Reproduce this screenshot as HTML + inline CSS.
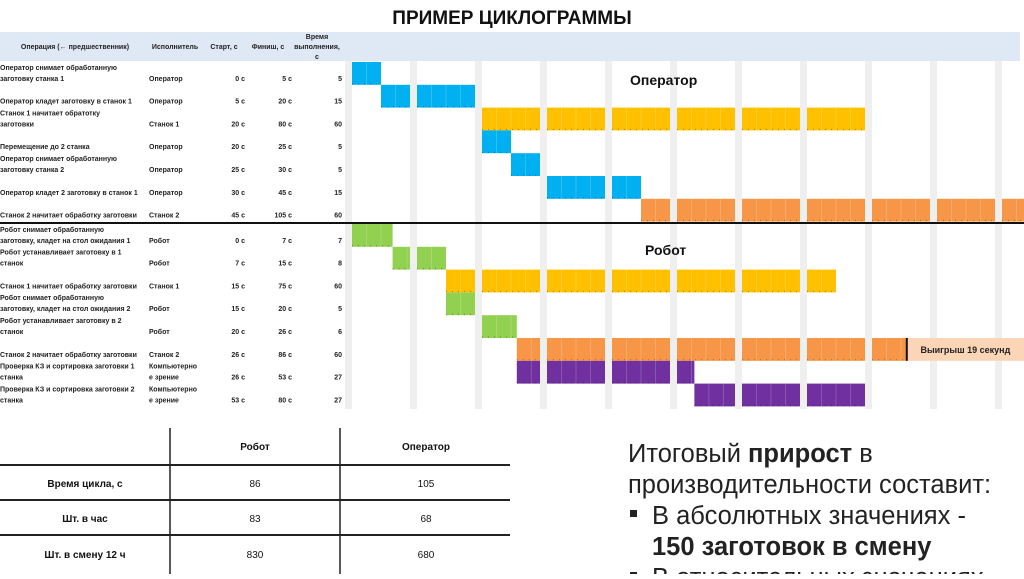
<!DOCTYPE html>
<html><head><meta charset="utf-8"><style>
body{margin:0;background:#fff;}
svg text{font-family:"Liberation Sans","DejaVu Sans",sans-serif;}
</style></head><body>
<svg id="s" width="1024" height="574" viewBox="0 0 1024 574" xmlns="http://www.w3.org/2000/svg">
<text x="512" y="24" text-anchor="middle" font-size="19" font-weight="bold" fill="#111">ПРИМЕР ЦИКЛОГРАММЫ</text>
<rect x="0" y="32" width="1020" height="29" fill="#dfe8f5"/>
<g font-size="7" font-weight="bold" fill="#222">
<text x="75" y="49" text-anchor="middle">Операция (← предшественник)</text>
<text x="175" y="49" text-anchor="middle">Исполнитель</text>
<text x="224" y="49" text-anchor="middle">Старт, с</text>
<text x="268" y="49" text-anchor="middle">Финиш, с</text>
<text x="317" y="39" text-anchor="middle">Время</text>
<text x="317" y="49" text-anchor="middle">выполнения,</text>
<text x="317" y="59" text-anchor="middle">с</text>
</g>
<g id="grid"></g><g id="bars"></g><g id="rows"></g>
<line x1="0" y1="223" x2="1024" y2="223" stroke="#111" stroke-width="2"/>
<text x="630" y="85" font-size="14" font-weight="bold" fill="#111">Оператор</text>
<text x="645" y="255" font-size="14" font-weight="bold" fill="#111">Робот</text>
<g id="gain"></g>
<g stroke="#222">
<line x1="170" y1="428" x2="170" y2="574" stroke-width="1.5"/>
<line x1="340" y1="428" x2="340" y2="574" stroke-width="1.5"/>
<line x1="0" y1="465" x2="510" y2="465" stroke-width="2"/>
<line x1="0" y1="500" x2="510" y2="500" stroke-width="2"/>
<line x1="0" y1="535" x2="510" y2="535" stroke-width="2"/>
</g>
<g font-size="10" fill="#111" text-anchor="middle">
<text x="255" y="450" font-weight="bold">Робот</text>
<text x="426" y="450" font-weight="bold">Оператор</text>
<text x="85" y="487" font-weight="bold">Время цикла, с</text>
<text x="255" y="487">86</text><text x="426" y="487">105</text>
<text x="85" y="522" font-weight="bold">Шт. в час</text>
<text x="255" y="522">83</text><text x="426" y="522">68</text>
<text x="85" y="558" font-weight="bold">Шт. в смену 12 ч</text>
<text x="255" y="558">830</text><text x="426" y="558">680</text>
</g>
<g font-size="25.5" fill="#222">
<text x="628" y="462">Итоговый <tspan font-weight="bold">прирост</tspan> в</text>
<text x="628" y="493">производительности составит:</text>
<rect x="630" y="510" width="7" height="7" fill="#222"/>
<text x="652" y="524">В абсолютных значениях -</text>
<text x="652" y="555" font-weight="bold">150 заготовок в смену</text>
<rect x="630" y="572" width="7" height="7" fill="#222"/>
<text x="652" y="586">В относительных значениях</text>
</g>
</svg>
<script>
const opLabels=[["Оператор снимает обработанную","заготовку станка 1"],["Оператор кладет заготовку в станок 1"],["Станок 1 начитает обратотку","заготовки"],["Перемещение до 2 станка"],["Оператор снимает обработанную","заготовку станка 2"],["Оператор кладет 2 заготовку в станок 1"],["Станок 2 начитает обработку заготовки"]];
const opExec=["Оператор","Оператор","Станок 1","Оператор","Оператор","Оператор","Станок 2"];
const opStart=[0,5,20,20,25,30,45];
const opFinish=[5,20,80,25,30,45,105];
const opColor=["blue","blue","yellow","blue","blue","blue","orange"];
const rbLabels=[["Робот снимает обработанную","заготовку, кладет на стол ожидания 1"],["Робот устанавливает заготовку в 1","станок"],["Станок 1 начитает обработку заготовки"],["Робот снимает обработанную","заготовку, кладет на стол ожидания 2"],["Робот устанавливает заготовку в 2","станок"],["Станок 2 начитает обработку заготовки"],["Проверка КЗ и сортировка заготовки 1","станка"],["Проверка КЗ и сортировка заготовки 2","станка"]];
const rbExec=[["Робот"],["Робот"],["Станок 1"],["Робот"],["Робот"],["Станок 2"],["Компьютерно","е зрение"],["Компьютерно","е зрение"]];
const rbStart=[0,7,15,15,20,26,26,53];
const rbFinish=[7,15,75,20,26,86,53,80];
const rbColor=["green","green","yellow","green","green","orange","purple","purple"];
const gainSeconds=19;

const NS="http://www.w3.org/2000/svg";
const palette={blue:"#00b0f0",yellow:"#ffc000",orange:"#f79646",green:"#92d050",purple:"#7030a0"};
const X0=352,PITCH=65,BW=58;
function xOf(t){const b=Math.floor(t/10);const r=t-b*10;if(r===0&&b>0)return X0+(b-1)*PITCH+BW;return X0+b*PITCH+r*BW/10;}
function xStart(t){const b=Math.floor(t/10);return X0+b*PITCH+(t-b*10)*BW/10;}
function mk(tag,attrs,parent){const e=document.createElementNS(NS,tag);for(const k in attrs)e.setAttribute(k,attrs[k]);parent.appendChild(e);return e;}
const grid=document.getElementById('grid'),bars=document.getElementById('bars'),rows=document.getElementById('rows');
for(let k=-1;k<11;k++){const g=mk('rect',{x:X0+BW+k*PITCH,y:61,width:7,height:348,fill:"#efefef"},grid);

}
function segments(s,f){const out=[];let t=s;while(t<f){const b=Math.floor(t/10);const e=Math.min(f,(b+1)*10);out.push([t,e]);t=e;}return out;}
function drawGroup(labels,execs,starts,finishes,colors,top,h,prefix){
 for(let i=0;i<starts.length;i++){
  const y=top+i*h;
  segments(starts[i],finishes[i]).forEach(([a,b])=>{
   const x1=xStart(a),x2=xOf(b);
   const r=mk('rect',{x:x1,y:y,width:x2-x1,height:h,fill:palette[colors[i]]},bars);
   
   
   for(let c=a+2.5;c<b;c+=2.5){const cx=xStart(c);mk('line',{x1:cx,y1:y,x2:cx,y2:y+h,stroke:"rgba(255,255,255,0.18)","stroke-width":1},bars);}
   mk('line',{x1:x1,y1:y+h-1,x2:x2,y2:y+h-1,stroke:"rgba(0,0,0,0.35)","stroke-width":1,"stroke-dasharray":"1 5"},bars);
  });
  const lab=labels[i];const ex=Array.isArray(execs[i])?execs[i]:[execs[i]];
  const yb=y+h-4;
  const g=mk('g',{"font-size":7,"font-weight":"bold",fill:"#222"},rows);
  
  
  lab.forEach((l,j)=>{const t=mk('text',{x:0,y:yb-(lab.length-1-j)*11},g);t.textContent=l;});
  ex.forEach((l,j)=>{const t=mk('text',{x:149,y:yb-(ex.length-1-j)*11},g);t.textContent=l;});
  [[245,starts[i]+" с"],[292,finishes[i]+" с"],[342,String(finishes[i]-starts[i])]].forEach(([x,v])=>{const t=mk('text',{x:x,y:yb,"text-anchor":"end"},g);t.textContent=v;});
 }
}
drawGroup(opLabels,opExec,opStart,opFinish,opColor,62,22.8,'operator');
drawGroup(rbLabels,rbExec,rbStart,rbFinish,rbColor,224,22.8,'robot');
const gain=document.getElementById('gain');
const rEnd=xOf(Math.max(...rbFinish));const gy=224+5*22.8;
const gb=mk('rect',{x:rEnd,y:gy,width:1024-rEnd,height:22.8,fill:"#fbd5b5"},gain);


mk('line',{x1:rEnd,y1:gy,x2:rEnd,y2:gy+22.8,stroke:"#111","stroke-width":2},gain);
const gt=mk('text',{x:(rEnd+1024)/2,y:gy+15,"text-anchor":"middle","font-size":9,"font-weight":"bold",fill:"#222"},gain);


gt.textContent="Выигрыш "+gainSeconds+" секунд";
</script>
</body></html>
